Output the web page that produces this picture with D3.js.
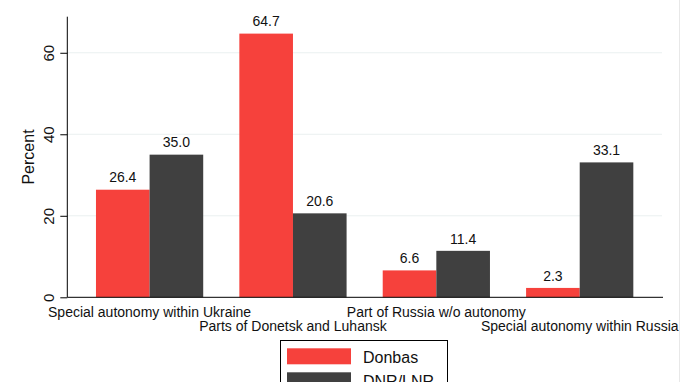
<!DOCTYPE html>
<html><head><meta charset="utf-8">
<script src="https://cdn.jsdelivr.net/npm/d3@7"></script>
<style>
body{margin:0;background:#fff;}
svg{display:block;font-family:"Liberation Sans",Arial,sans-serif;}
</style></head>
<body><svg id="c" width="680" height="382"></svg>
<script>
const categories = ["Special autonomy within Ukraine","Parts of Donetsk and Luhansk","Part of Russia w/o autonomy","Special autonomy within Russia"];
const seriesNames = ["Donbas","DNR/LNR"];
const donbas = [26.4, 64.7, 6.6, 2.3];
const dnrLnr = [35.0, 20.6, 11.4, 33.1];
const yTicks = [0, 20, 40, 60];
const colors = ["#f6413c", "#404040"];

const svg = d3.select("#c");
const L = 67.3, R = 662, T = 16.7, B = 297.3;

const x = d3.scaleBand().domain(categories).range([L, R]).paddingInner(0.252).paddingOuter(0.2);
const xs = d3.scaleBand().domain(seriesNames).range([0, x.bandwidth()]);
const y = d3.scaleLinear().domain([0, 68.85]).range([B, T]);

// gridlines
svg.append("g").selectAll("line").data(yTicks.filter(d=>d>0)).join("line")
  .attr("x1", L).attr("x2", R).attr("y1", d=>y(d)).attr("y2", d=>y(d))
  .attr("stroke", "#eaf0f0").attr("stroke-width", 1);

// bars
const data = categories.map((c,i)=>({c, vals:[donbas[i], dnrLnr[i]]}));
const g = svg.append("g").selectAll("g").data(data).join("g")
  .attr("transform", d=>`translate(${x(d.c)},0)`);
g.selectAll("rect").data(d=>d.vals.map((v,j)=>({v, s:seriesNames[j], j}))).join("rect")
  .attr("x", d=>xs(d.s)).attr("width", xs.bandwidth())
  .attr("y", d=>y(d.v)).attr("height", d=>B - y(d.v))
  .attr("fill", d=>colors[d.j]);
g.selectAll("text").data(d=>d.vals.map((v,j)=>({v, s:seriesNames[j], j}))).join("text")
  .attr("x", d=>xs(d.s)+xs.bandwidth()/2).attr("y", d=>y(d.v)-7.3)
  .attr("text-anchor","middle").attr("font-size","14px").attr("fill","#111")
  .text(d=>d.v.toFixed(1));

// y axis
const yAxis = d3.axisLeft(y).tickValues(yTicks).tickSize(7).tickPadding(7).tickSizeOuter(0);
const ya = svg.append("g").attr("transform",`translate(${L},0)`).call(yAxis);
ya.select(".domain").attr("stroke","#000").attr("d", `M0,${T}V${B}`);
ya.selectAll(".tick line").attr("stroke","#000");
ya.selectAll(".tick text")
  .attr("font-size","15px").attr("font-family",'"Liberation Sans",Arial,sans-serif').attr("fill","#111")
  .attr("text-anchor","middle").attr("dy",null).attr("x",null)
  .attr("transform","translate(-13.8,0) rotate(-90)");

// x axis baseline
svg.append("line").attr("x1", L).attr("x2", R+1).attr("y1", B).attr("y2", B).attr("stroke","#000");

// category labels staggered
svg.append("g").selectAll("text").data(categories).join("text")
  .attr("x", d=>x(d)+x.bandwidth()/2)
  .attr("y", (d,i)=> i%2===0 ? 317 : 330.5)
  .attr("text-anchor","middle").attr("font-size","14px").attr("fill","#111")
  .text(d=>d);

// y title
svg.append("text").attr("transform",`translate(34,${(T+B)/2}) rotate(-90)`)
  .attr("text-anchor","middle").attr("font-size","16px").attr("fill","#111").text("Percent");

// legend
const lg = svg.append("g");
lg.append("rect").attr("x",280.5).attr("y",340.5).attr("width",167).attr("height",60)
  .attr("fill","#fff").attr("stroke","#000");
seriesNames.forEach((s,i)=>{
  lg.append("rect").attr("x",287).attr("y",348.3+i*24).attr("width",64).attr("height",16).attr("fill",colors[i]);
  lg.append("text").attr("x",363).attr("y",363+i*24).attr("font-size","16px").attr("fill","#111").text(s);
});

// faint right border
svg.append("line").attr("x1",679.5).attr("x2",679.5).attr("y1",0).attr("y2",382).attr("stroke","#e8e8e8");
</script></body></html>
